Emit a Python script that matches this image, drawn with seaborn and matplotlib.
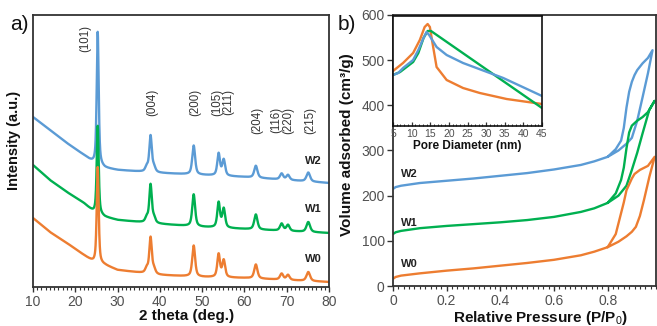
import numpy as np
import pandas as pd
import matplotlib
matplotlib.use("Agg")
import matplotlib.pyplot as plt
import seaborn as sns
from matplotlib.ticker import MultipleLocator, NullLocator

sns.set_theme(style="white")
plt.rcParams['font.family'] = ['Liberation Sans', 'DejaVu Sans']
plt.rcParams['mathtext.fontset'] = 'custom'
plt.rcParams['mathtext.rm'] = 'Liberation Sans'
plt.rcParams['mathtext.bf'] = 'Liberation Sans:bold'

samples = ["W2", "W1", "W0"]
palette = {"W0": "#ED7D31", "W1": "#00B050", "W2": "#5B9BD5"}

# ---------------- XRD (panel a) ----------------
hkl_labels = ["(101)", "(004)", "(200)", "(105)\n(211)", "(204)", "(116)\n(220)", "(215)"]
hkl_label_x = [22.3, 38.1, 48.3, 54.9, 63.1, 68.9, 75.5]
hkl_label_y = [249, 185, 185, 185, 167, 167, 167]

peak_pos = [25.3, 36.9, 37.8, 38.6, 48.0, 53.9, 55.1, 62.7, 68.8, 70.3, 75.1]
peak_fwhm = [0.55, 0.8, 0.7, 0.8, 0.8, 0.75, 0.8, 0.9, 0.9, 0.9, 1.0]
peaks_W0 = [96, 5, 36, 5, 31, 23, 17, 14, 6, 5, 9]
peaks_W1 = [88, 5, 38, 5, 32, 25, 19, 15, 7, 6, 10]
peaks_W2 = [133, 5, 36, 5, 29, 22, 16, 12, 6, 5, 9]

base_x = [10, 14, 18, 22, 24.3, 27, 30, 40, 50, 60, 70, 80]
base_W0 = [69, 55, 44, 32, 25, 22, 17, 12, 10, 9, 7, 5]
base_W1 = [122, 107, 95, 84, 75, 70, 67, 63, 60, 58, 56, 54]
base_W2 = [170, 157, 144, 132, 124, 119, 117, 114, 112, 110, 107, 104]

xrd_label_x = [76.4, 76.4, 76.4]
xrd_label_y = [126, 78, 28]  # W2, W1, W0

# ---------------- Isotherms (panel b) ----------------
W2_ads_p = [0, 0.01, 0.03, 0.1, 0.2, 0.3, 0.4, 0.5, 0.6, 0.7, 0.75, 0.8, 0.84, 0.87, 0.89, 0.91, 0.93, 0.95, 0.967]
W2_ads_v = [215, 219, 222, 228, 233, 238, 244, 250, 258, 268, 276, 286, 300, 315, 328, 366, 418, 471, 522]
W2_des_p = [0.967, 0.95, 0.93, 0.91, 0.9, 0.89, 0.88, 0.87, 0.86, 0.85, 0.83, 0.8]
W2_des_v = [522, 505, 493, 478, 467, 452, 430, 395, 350, 322, 303, 286]

W1_ads_p = [0, 0.01, 0.03, 0.1, 0.2, 0.3, 0.4, 0.5, 0.6, 0.7, 0.75, 0.8, 0.84, 0.87, 0.89, 0.91, 0.93, 0.955, 0.975]
W1_ads_v = [115, 119, 122, 128, 133, 137, 141, 146, 153, 164, 172, 184, 200, 222, 257, 295, 338, 390, 410]
W1_des_p = [0.975, 0.95, 0.93, 0.91, 0.89, 0.88, 0.87, 0.86, 0.85, 0.83, 0.8]
W1_des_v = [410, 385, 374, 366, 355, 340, 305, 262, 235, 205, 184]

W0_ads_p = [0, 0.01, 0.03, 0.1, 0.2, 0.3, 0.4, 0.5, 0.6, 0.7, 0.75, 0.8, 0.84, 0.87, 0.89, 0.905, 0.92, 0.935, 0.955, 0.975]
W0_ads_v = [16, 20, 23, 28, 34, 39, 45, 51, 58, 68, 76, 86, 98, 110, 120, 131, 155, 190, 241, 286]
W0_des_p = [0.975, 0.95, 0.92, 0.9, 0.89, 0.87, 0.86, 0.845, 0.83, 0.8]
W0_des_v = [286, 266, 257, 248, 238, 212, 185, 150, 115, 86]

iso_label_x = [0.03, 0.03, 0.03]
iso_label_y = [248, 139, 49]  # W2, W1, W0

# ---------------- Pore size distribution (inset) ----------------
W0_pd_x = [5, 7.7, 10.4, 12.2, 13.5, 14.3, 14.9, 15.6, 16.7, 19.4, 23.8, 28.3, 35.5, 45]
W0_pd_y = [54, 62, 72, 85, 98, 101, 98, 82, 58, 45, 37, 32, 26, 21]
W1_pd_x = [5, 6.9, 10.4, 11.8, 13.2, 14.3, 15.2, 45]
W1_pd_y = [50, 53, 63, 72, 87, 94, 94, 17]
W2_pd_x = [5, 6.4, 7.7, 10.4, 11.8, 13.2, 14.0, 14.7, 16.7, 19.4, 23.8, 34.6, 45]
W2_pd_y = [50, 52, 57, 65, 75, 87, 93, 90, 78, 70, 62, 47, 29]

# ---------------- build tables ----------------
tt = np.arange(10, 80.001, 0.02)

def xrd_curve(base, peaks):
    y = np.interp(tt, base_x, base)
    for c, w, h in zip(peak_pos, peak_fwhm, peaks):
        g = np.exp(-4 * np.log(2) * ((tt - c) / w) ** 2)
        lz = 1.0 / (1 + 4 * ((tt - c) / w) ** 2)
        y = y + h * (0.6 * lz + 0.4 * g)
    return y

xrd_df = pd.concat([
    pd.DataFrame({"tt": tt, "I": xrd_curve(base_W2, peaks_W2), "s": "W2"}),
    pd.DataFrame({"tt": tt, "I": xrd_curve(base_W1, peaks_W1), "s": "W1"}),
    pd.DataFrame({"tt": tt, "I": xrd_curve(base_W0, peaks_W0), "s": "W0"}),
], ignore_index=True)

iso_df = pd.concat([
    pd.DataFrame({"p": W2_ads_p + W2_des_p, "v": W2_ads_v + W2_des_v, "s": "W2"}),
    pd.DataFrame({"p": W1_ads_p + W1_des_p, "v": W1_ads_v + W1_des_v, "s": "W1"}),
    pd.DataFrame({"p": W0_ads_p + W0_des_p, "v": W0_ads_v + W0_des_v, "s": "W0"}),
], ignore_index=True)

pd_df = pd.concat([
    pd.DataFrame({"d": W0_pd_x, "f": W0_pd_y, "s": "W0"}),
    pd.DataFrame({"d": W1_pd_x, "f": W1_pd_y, "s": "W1"}),
    pd.DataFrame({"d": W2_pd_x, "f": W2_pd_y, "s": "W2"}),
], ignore_index=True)

W, H = 657, 326
fig = plt.figure(figsize=(W / 100, H / 100), dpi=100)
fig.patch.set_facecolor("white")

def fx(px):
    return px / W

def fy(py):
    return 1 - py / H

spine_col = "#333333"
tick_col = "#505050"

# ---------- panel a ----------
axA = fig.add_axes([fx(33), fy(287), fx(329) - fx(33), fy(15) - fy(287)])
sns.lineplot(data=xrd_df, x="tt", y="I", hue="s", hue_order=["W2", "W1", "W0"],
             palette=palette, estimator=None, sort=False, legend=False,
             linewidth=1.7, ax=axA)
axA.set_xlim(10, 80)
axA.set_ylim(0, 272)
axA.xaxis.set_major_locator(MultipleLocator(10))
axA.xaxis.set_minor_locator(MultipleLocator(1))
axA.yaxis.set_major_locator(NullLocator())
axA.tick_params(axis="x", which="major", direction="out", length=3.5, width=1,
                colors=spine_col, labelcolor=tick_col, labelsize=10, pad=2, bottom=True)
axA.tick_params(axis="x", which="minor", direction="out", length=2, width=0.8,
                colors=spine_col, bottom=True)
for sp in axA.spines.values():
    sp.set_color(spine_col)
    sp.set_linewidth(1.3)
axA.set_xlabel("2 theta (deg.)", fontsize=11, fontweight="bold", color="#111111")
axA.xaxis.set_label_coords(0.52, -0.082)
axA.set_ylabel("Intensity (a.u.)", fontsize=10.5, fontweight="bold", color="#111111")
axA.yaxis.set_label_coords(-0.04, 0.54)
for lab, x, y in zip(hkl_labels, hkl_label_x, hkl_label_y):
    axA.text(x, y, lab, rotation=90, ha="center", va="center", fontsize=8.3,
             color="#333333", linespacing=0.95)
for lab, x, y in zip(samples, xrd_label_x, xrd_label_y):
    axA.text(x, y, lab, ha="center", va="center", fontsize=8, fontweight="bold",
             color="#222222")

# ---------- panel b ----------
axB = fig.add_axes([fx(393), fy(286), fx(656) - fx(393), fy(15) - fy(286)])
sns.lineplot(data=iso_df, x="p", y="v", hue="s", hue_order=["W2", "W1", "W0"],
             palette=palette, estimator=None, sort=False, legend=False,
             linewidth=1.7, ax=axB)
axB.set_xlim(0, 0.98)
axB.set_ylim(0, 600)
axB.xaxis.set_minor_locator(MultipleLocator(0.02))
axB.yaxis.set_major_locator(MultipleLocator(100))
axB.set_xticks([0, 0.2, 0.4, 0.6, 0.8])
axB.set_xticklabels(["0", "0.2", "0.4", "0.6", "0.8"])
axB.tick_params(axis="x", which="major", direction="out", length=3.5, width=1,
                colors=spine_col, labelcolor=tick_col, labelsize=10, pad=2, bottom=True)
axB.tick_params(axis="x", which="minor", direction="out", length=2, width=0.8,
                colors=spine_col, bottom=True)
axB.tick_params(axis="y", which="major", direction="out", length=4, width=1,
                colors=spine_col, labelcolor=tick_col, labelsize=10, pad=2, left=True)
for sp in axB.spines.values():
    sp.set_color(spine_col)
    sp.set_linewidth(1.3)
axB.set_xlabel("Relative Pressure (P/P$_0$)", fontsize=11, fontweight="bold", color="#111111")
axB.xaxis.set_label_coords(0.56, -0.085)
axB.set_ylabel("Volume adsorbed (cm³/g)", fontsize=11, fontweight="bold", color="#111111")
axB.yaxis.set_label_coords(-0.15, 0.52)
for lab, x, y in zip(samples, iso_label_x, iso_label_y):
    axB.text(x, y, lab, ha="left", va="center", fontsize=8, fontweight="bold",
             color="#222222")

# ---------- inset ----------
axI = fig.add_axes([fx(393), fy(126), fx(542) - fx(393), fy(16) - fy(126)])
axI.set_facecolor("white")
sns.lineplot(data=pd_df, x="d", y="f", hue="s", hue_order=["W0", "W1", "W2"],
             palette=palette, estimator=None, sort=False, legend=False,
             linewidth=1.7, ax=axI)
axI.set_xlim(5, 45)
axI.set_ylim(-1, 109)
axI.xaxis.set_major_locator(MultipleLocator(5))
axI.xaxis.set_minor_locator(MultipleLocator(1))
axI.yaxis.set_major_locator(NullLocator())
axI.tick_params(axis="x", which="major", direction="in", length=3, width=0.9,
                colors=spine_col, labelcolor=tick_col, labelsize=7.5, pad=2, bottom=True)
axI.tick_params(axis="x", which="minor", direction="in", length=1.8, width=0.7,
                colors=spine_col, bottom=True)
for sp in axI.spines.values():
    sp.set_color("#111111")
    sp.set_linewidth(1.2)
axI.set_xlabel("Pore Diameter (nm)", fontsize=8.5, fontweight="bold", color="#111111",
               labelpad=1)
axI.set_ylabel("")

fig.text(fx(10), fy(24), "a)", fontsize=15, ha="left", va="center", color="#111111")
fig.text(fx(338), fy(24), "b)", fontsize=15, ha="left", va="center", color="#111111")

fig.savefig("out.png", dpi=100, facecolor="white")
